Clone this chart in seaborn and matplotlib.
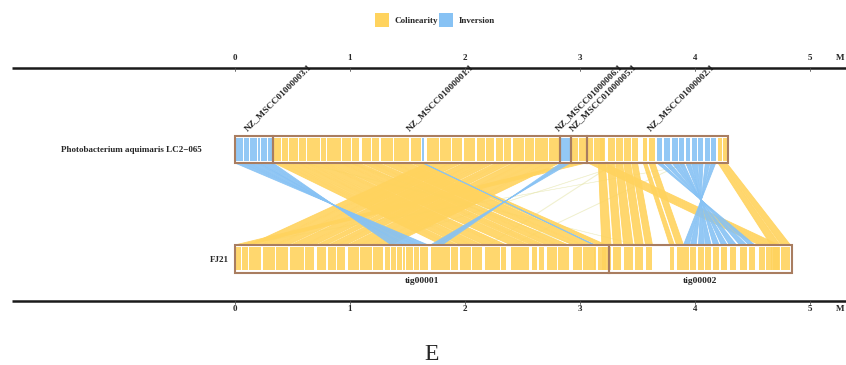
import matplotlib
matplotlib.use("Agg")
import matplotlib.pyplot as plt
import seaborn as sns
from matplotlib.patches import Rectangle, Polygon, Patch

# ---------------- data ----------------
top_genome = "Photobacterium aquimaris LC2\u2212065"
bottom_genome = "FJ21"

top_contigs = ["NZ_MSCC01000003.1", "NZ_MSCC01000001.1", "NZ_MSCC01000006.1",
               "NZ_MSCC01000005.1", "NZ_MSCC01000002.1"]
top_contig_start = [0.00, 0.33, 2.83, 2.92, 3.06]
top_contig_end = [0.33, 2.83, 2.92, 3.06, 4.29]

bot_contigs = ["tig00001", "tig00002"]
bot_contig_start = [0.00, 3.25]
bot_contig_end = [3.25, 4.84]

axis_ticks = [0, 1, 2, 3, 4, 5]
axis_unit = "M"
panel_letter = "E"
legend_labels = ["Colinearity", "Inversion"]

# alignment blocks (top_start, top_end, bottom_start, bottom_end), Mb
inv_contig3 = [(0.00, 0.07, 1.68, 1.61), (0.08, 0.12, 1.60, 1.56), (0.13, 0.19, 1.55, 1.49),
               (0.20, 0.22, 1.48, 1.46), (0.23, 0.28, 1.45, 1.41), (0.29, 0.33, 1.40, 1.36)]
col_contig1_left = [(0.34, 0.40, 1.80, 1.87), (0.41, 0.46, 1.88, 1.94), (0.47, 0.55, 1.96, 2.05),
                    (0.56, 0.62, 2.06, 2.15), (0.63, 0.74, 2.17, 2.30), (0.75, 0.79, 2.31, 2.36),
                    (0.80, 0.92, 2.40, 2.56), (0.93, 1.01, 2.58, 2.63), (1.02, 1.08, 2.64, 2.69),
                    (1.10, 1.18, 2.71, 2.80), (1.19, 1.25, 2.81, 2.90), (1.27, 1.37, 2.94, 3.02),
                    (1.38, 1.51, 3.03, 3.14), (1.53, 1.62, 3.16, 3.23)]
inv_contig1_small = [(1.63, 1.64, 3.13, 3.12)]
col_contig1_right = [(1.67, 1.77, 0.12, 0.23), (1.78, 1.88, 0.24, 0.35), (1.89, 1.97, 0.36, 0.46),
                     (1.99, 2.09, 0.48, 0.60), (2.10, 2.17, 0.61, 0.69), (2.18, 2.25, 0.71, 0.79),
                     (2.27, 2.33, 0.81, 0.88), (2.34, 2.40, 0.89, 0.96), (2.42, 2.51, 0.98, 1.08),
                     (2.52, 2.60, 1.09, 1.19), (2.61, 2.72, 1.20, 1.29), (2.73, 2.82, 1.30, 1.35)]
inv_contig6 = [(2.835, 2.875, 1.80, 1.75), (2.88, 2.915, 1.745, 1.70)]
col_contig5 = [(2.93, 2.98, 0.00, 0.05), (2.99, 3.05, 0.06, 0.11)]
col_contig2_far = [(3.07, 3.11, 4.56, 4.61), (3.12, 3.16, 4.62, 4.67), (3.17, 3.21, 4.68, 4.73)]
col_contig2_near = [(3.16, 3.22, 3.19, 3.27), (3.24, 3.30, 3.29, 3.36), (3.31, 3.37, 3.38, 3.46),
                    (3.38, 3.44, 3.48, 3.55), (3.45, 3.50, 3.57, 3.63), (3.55, 3.58, 3.78, 3.82),
                    (3.60, 3.65, 3.84, 3.90)]
inv_contig2 = [(3.67, 3.71, 4.52, 4.47), (3.73, 3.78, 4.45, 4.39), (3.80, 3.85, 4.36, 4.30),
               (3.86, 3.90, 4.28, 4.23), (3.92, 3.96, 4.21, 4.16), (3.97, 4.02, 4.14, 4.09),
               (4.03, 4.07, 4.08, 4.03), (4.09, 4.13, 4.01, 3.96), (4.14, 4.18, 3.95, 3.90)]
col_contig2_end = [(4.20, 4.235, 4.66, 4.74), (4.24, 4.275, 4.75, 4.83)]
faint_links = [(4.05, 4.06, 0.05, 0.06), (0.60, 0.61, 3.50, 3.51), (3.40, 3.41, 1.20, 1.21),
               (3.90, 3.91, 2.40, 2.41), (1.00, 1.01, 2.95, 2.96), (3.30, 3.31, 2.20, 2.21)]

colinear_sets = [col_contig1_left, col_contig1_right, col_contig5, col_contig2_far,
                 col_contig2_near, col_contig2_end]
inversion_sets = [inv_contig3, inv_contig1_small, inv_contig6, inv_contig2]

# ---------------- style ----------------
YELLOW = "#FFD35E"
BLUE = "#87C2F4"
BORDER = "#A97D60"
FAINT = "#E3E3A0"
PX = 115.0          # pixels per Mb
X0 = 235.0          # pixel of 0 Mb


def mb(px):
    return (px - X0) / PX


sns.set_theme(style="white")
plt.rcParams["font.family"] = ["Liberation Serif", "DejaVu Serif"]

fig = plt.figure(figsize=(8.46, 3.65), dpi=100)
ax = fig.add_axes([0, 0, 1, 1])
ax.set_xlim(mb(0), mb(846))
ax.set_ylim(365, 0)
ax.axis("off")

TOP_Y0, TOP_Y1 = 135.5, 163.0
BOT_Y0, BOT_Y1 = 245.0, 272.5


def link(block, color, alpha, lw):
    t0, t1, b0, b1 = block
    poly = Polygon([(t0, TOP_Y1), (t1, TOP_Y1), (b1, BOT_Y0), (b0, BOT_Y0)],
                   closed=True, facecolor=color, edgecolor=color,
                   lw=lw, alpha=alpha, zorder=1)
    ax.add_patch(poly)


for blk in faint_links:
    link(blk, FAINT, 0.35, 0.4)
for s in colinear_sets:
    for blk in s:
        link(blk, YELLOW, 0.9, 0.6)
for s in inversion_sets:
    for blk in s:
        link(blk, BLUE, 0.9, 0.6)

# contig fills (white) and stripes
for s, e in zip(top_contig_start, top_contig_end):
    ax.add_patch(Rectangle((s, TOP_Y0), e - s, TOP_Y1 - TOP_Y0, facecolor="white",
                           edgecolor="none", zorder=2))
for s, e in zip(bot_contig_start, bot_contig_end):
    ax.add_patch(Rectangle((s, BOT_Y0), e - s, BOT_Y1 - BOT_Y0, facecolor="white",
                           edgecolor="none", zorder=2))


def stripes(blocks, color):
    for t0, t1, b0, b1 in blocks:
        ax.add_patch(Rectangle((t0, TOP_Y0 + 2), t1 - t0, TOP_Y1 - TOP_Y0 - 4,
                               facecolor=color, edgecolor="none", alpha=0.9, zorder=3))
        lo, hi = min(b0, b1), max(b0, b1)
        ax.add_patch(Rectangle((lo, BOT_Y0 + 2), hi - lo, BOT_Y1 - BOT_Y0 - 4.5,
                               facecolor=YELLOW, edgecolor="none", alpha=0.9, zorder=3))


for s in colinear_sets:
    stripes(s, YELLOW)
for s in inversion_sets:
    stripes(s, BLUE)

# contig borders
for s, e in zip(top_contig_start, top_contig_end):
    ax.add_patch(Rectangle((s, TOP_Y0), e - s, TOP_Y1 - TOP_Y0, facecolor="none",
                           edgecolor=BORDER, lw=1.5, zorder=4))
for s, e in zip(bot_contig_start, bot_contig_end):
    ax.add_patch(Rectangle((s, BOT_Y0), e - s, BOT_Y1 - BOT_Y0, facecolor="none",
                           edgecolor=BORDER, lw=1.5, zorder=4))

# contig labels
for name, s, e in zip(top_contigs, top_contig_start, top_contig_end):
    ax.text((s + e) / 2 - 7 / PX, 131.5, name, rotation=45, rotation_mode="anchor",
            ha="left", va="baseline", fontsize=6.8, fontweight="bold", zorder=5)
for name, s, e in zip(bot_contigs, bot_contig_start, bot_contig_end):
    ax.text((s + e) / 2, 281, name, ha="center", va="center", fontsize=6.8,
            fontweight="bold")

# genome labels
ax.text(mb(202), 150.5, top_genome, ha="right", va="center", fontsize=6.5, fontweight="bold")
ax.text(mb(229), 260, bottom_genome, ha="right", va="center", fontsize=6.5, fontweight="bold")

# scale axes
for yline, ylab in [(67.5, 58), (300.5, 309)]:
    ax.plot([mb(12), mb(846)], [yline, yline], color="#1a1a1a", lw=1.8, zorder=5,
            solid_capstyle="butt")
    for t in axis_ticks:
        ax.plot([t, t], [yline, yline + 3], color="#555555", lw=0.6, zorder=5)
        ax.text(t, ylab, str(t), ha="center", va="center", fontsize=6.5, fontweight="bold")
    ax.text(mb(840), ylab, axis_unit, ha="center", va="center", fontsize=6.5,
            fontweight="bold")

# panel letter
ax.text(mb(432), 354, panel_letter, ha="center", va="center", fontsize=17)

# legend
handles = [Patch(facecolor=YELLOW, edgecolor="none", label=legend_labels[0]),
           Patch(facecolor=BLUE, edgecolor="none", label=legend_labels[1])]
fig.legend(handles=handles, loc="center", bbox_to_anchor=(0.514, 1 - 20 / 365), ncol=2,
           frameon=False, prop={"size": 6.5, "weight": "bold"}, handlelength=1.6,
           handleheight=2.0, handletextpad=0.6, columnspacing=0.1, borderpad=0)

fig.savefig("out.png", dpi=100)
